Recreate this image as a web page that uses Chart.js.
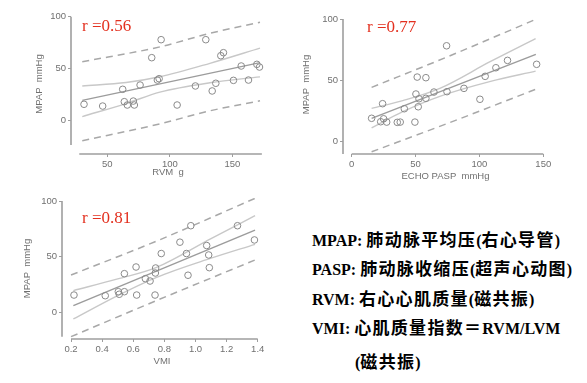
<!DOCTYPE html>
<html>
<head>
<meta charset="utf-8">
<script src="https://cdn.jsdelivr.net/npm/chart.js@4.4.0/dist/chart.umd.min.js"></script>
<style>
  body { margin: 0; background: #fff; }
  #wrap { position: relative; width: 587px; height: 383px; overflow: hidden; }
  canvas { position: absolute; }
  .r { position: absolute; font: 17px "Liberation Serif", "Times New Roman", serif; line-height: 17px; color: #e3301f; white-space: pre; }
  .note { position: absolute; left: 312px; font: bold 16px "Liberation Serif", "Times New Roman", "Noto Sans CJK SC", serif; line-height: 16px; color: #000; white-space: pre; }
  .cj { font-family: "Noto Sans CJK SC", sans-serif; font-size: 17px; letter-spacing: 1.3px; }
</style>
</head>
<body>
<div id="wrap">
  <canvas id="c1" width="290" height="185" style="left:0;top:0"></canvas>
  <canvas id="c2" width="297" height="185" style="left:290px;top:0"></canvas>
  <canvas id="c3" width="290" height="198" style="left:0;top:185px"></canvas>
  <div class="r" style="left:82px;top:17px">r =0.56</div>
  <div class="r" style="left:367px;top:18px">r =0.77</div>
  <div class="r" style="left:82px;top:209px">r =0.81</div>
  <div class="note" style="top:231px">MPAP: <span class="cj">肺动脉平均压</span>(<span class="cj">右心导管</span>)</div>
  <div class="note" style="top:260px">PASP: <span class="cj">肺动脉收缩压</span>(<span class="cj">超声心动图</span>)</div>
  <div class="note" style="top:290px">RVM: <span class="cj">右心心肌质量</span>(<span class="cj">磁共振</span>)</div>
  <div class="note" style="top:319px">VMI: <span class="cj">心肌质量指数＝</span>RVM/LVM</div>
  <div class="note" style="top:353px;left:355px">(<span class="cj">磁共振</span>)</div>
</div>
<script>
// --- RVM vs MPAP ---
const rvm = [31.4, 46.3, 62.3, 63.6, 66, 70.8, 71.6, 76.2, 85.5, 90, 91.4, 93, 105.8, 120.4, 128.7, 133.8, 136.7, 140.7, 142.8, 150.8, 157, 162.8, 169.5, 171.6];
const mpapRvm = [15.8, 14.1, 30.2, 18.3, 15.1, 18.9, 15.1, 34.3, 60.6, 39.1, 40.4, 77.9, 15.1, 33.4, 77.9, 28.6, 36, 62.5, 65.4, 38.8, 52.6, 39.1, 54.2, 51.6];
const rvmFitX = [30, 172];
const rvmFit = [19.5, 55.8];
const rvmBandX = [30, 65, 92, 132, 172];
const rvmCiUp = [33.4, 36.8, 42.3, 55.2, 69.8];
const rvmCiLo = [4, 16.5, 27.5, 36.5, 42.2];
const rvmPiX = [30, 92, 132, 172];
const rvmPiUp = [56.7, 71, 84, 94.6];
const rvmPiLo = [-19.2, -3, 9.5, 19.2];

// --- ECHO PASP vs MPAP ---
const pasp = [15.6, 24.2, 22.7, 25, 27.4, 35.7, 38, 41.2, 49.5, 50.3, 51.3, 52.7, 52.1, 58.1, 58.1, 64.4, 74.3, 74.6, 87.9, 100.4, 104.5, 112.9, 122, 144.8];
const mpapPasp = [19.1, 31, 16.3, 18.7, 16, 15.8, 16, 26.9, 16, 38.9, 52.7, 35, 28.5, 52.2, 35.4, 40.5, 78.2, 40.8, 43.5, 34.6, 53.3, 60.3, 66.3, 63.1];
const paspFitX = [15.6, 144.2];
const paspFit = [19.1, 71.2];
const paspBandX = [15.6, 40, 69, 108, 144];
const paspCiUp = [27.2, 33.5, 43.5, 65, 84];
const paspCiLo = [11.3, 24.5, 37, 49, 57.5];
const paspPiX = [15.6, 74, 144];
const paspPiUp = [44.3, 68.8, 99.7];
const paspPiLo = [-8.2, 14.5, 42.7];

// --- VMI vs MPAP ---
const vmi = [0.219, 0.42, 0.504, 0.51, 0.543, 0.543, 0.618, 0.622, 0.678, 0.708, 0.74, 0.742, 0.744, 0.78, 0.9, 0.942, 0.952, 0.97, 1.072, 1.085, 1.089, 1.27, 1.379];
const mpapVmi = [15.5, 14.9, 18.5, 16.2, 18.5, 34.7, 40.7, 15.5, 30.2, 28.1, 15.5, 35.3, 39.8, 52.8, 63, 52.8, 33.3, 77.8, 60, 51.5, 40.1, 77.8, 65];
const vmiFitX = [0.215, 1.383];
const vmiFit = [6, 73.9];
const vmiBandX = [0.215, 0.5, 0.75, 1.1, 1.383];
const vmiCiUp = [19.5, 30, 40.4, 66.2, 86.8];
const vmiCiLo = [-6, 15, 31.4, 48.6, 61.1];
const vmiPiX = [0.2, 0.74, 1.383];
const vmiPiUp = [33.5, 63.4, 102.4];
const vmiPiLo = [-21.9, 10, 47];

const FONT = 'Liberation Sans, Arial, sans-serif';
const TICK_COLOR = '#707070';

const axisLines = {
  id: 'axisLines',
  afterDraw(chart, args, o) {
    const { ctx, chartArea, scales: { x, y } } = chart;
    ctx.save();
    ctx.strokeStyle = o.color;
    ctx.lineWidth = o.width;
    ctx.beginPath();
    ctx.moveTo(chartArea.left, y.getPixelForValue(o.y[1]));
    ctx.lineTo(chartArea.left, y.getPixelForValue(o.y[0]));
    ctx.moveTo(x.getPixelForValue(o.x[0]), chartArea.bottom);
    ctx.lineTo(x.getPixelForValue(o.x[1]), chartArea.bottom);
    ctx.stroke();
    ctx.restore();
  }
};

function pts(xs, ys) { return xs.map((x, i) => ({ x, y: ys[i] })); }

function curve(xs, ys, color, width, dash) {
  return {
    type: 'line', data: pts(xs, ys), borderColor: color, borderWidth: width,
    borderDash: dash || [], pointRadius: 0, fill: false,
    tension: 0.4, cubicInterpolationMode: 'monotone'
  };
}

function makeChart(id, cfg) {
  const tickFont = { family: FONT, size: 9.5 };
  new Chart(document.getElementById(id), {
    type: 'scatter',
    data: {
      datasets: [
        { data: pts(cfg.xs, cfg.ys), pointRadius: 3.3, pointBorderWidth: 1,
          pointBorderColor: '#8a8a8a', pointBackgroundColor: 'rgba(0,0,0,0)', showLine: false },
        curve(cfg.fitX, cfg.fit, '#9c9c9c', 1.4),
        curve(cfg.bandX, cfg.ciUp, '#c8c8c8', 1.4),
        curve(cfg.bandX, cfg.ciLo, '#c8c8c8', 1.4),
        curve(cfg.piX, cfg.piUp, '#a8a8a8', 1.5, [7, 5]),
        curve(cfg.piX, cfg.piLo, '#a8a8a8', 1.5, [7, 5])
      ]
    },
    options: {
      responsive: false,
      animation: false,
      events: [],
      layout: { padding: cfg.pad },
      plugins: {
        legend: { display: false },
        tooltip: { enabled: false },
        axisLines: { color: '#9e9e9e', width: 1.6, x: cfg.xLine, y: cfg.yLine }
      },
      scales: {
        x: {
          type: 'linear', min: cfg.xMin, max: cfg.xMax,
          afterBuildTicks: s => { s.ticks = cfg.xTicks.map(v => ({ value: v })); },
          afterFit: s => { s.height = cfg.xH; },
          border: { display: false },
          grid: { drawOnChartArea: false, drawTicks: true, tickLength: 3, color: '#9e9e9e' },
          ticks: { font: tickFont, color: TICK_COLOR, padding: 2, maxRotation: 0,
                   callback: cfg.xFmt || (v => v) },
          title: { display: true, text: cfg.xTitle, font: tickFont, color: TICK_COLOR,
                   padding: { top: 0, bottom: cfg.xTitlePad } }
        },
        y: {
          min: cfg.yMin, max: cfg.yMax,
          afterBuildTicks: s => { s.ticks = [0, 50, 100].map(v => ({ value: v })); },
          afterFit: s => { s.width = cfg.yW; },
          border: { display: false },
          grid: { drawOnChartArea: false, drawTicks: true, tickLength: 3, color: '#9e9e9e' },
          ticks: { font: tickFont, color: TICK_COLOR, padding: 2 },
          title: { display: true, text: 'MPAP  mmHg', font: tickFont, color: TICK_COLOR,
                   padding: { top: cfg.yTitlePad, bottom: 0 } }
        }
      }
    },
    plugins: [axisLines]
  });
}

makeChart('c1', {
  xs: rvm, ys: mpapRvm, fitX: rvmFitX, fit: rvmFit, bandX: rvmBandX, ciUp: rvmCiUp, ciLo: rvmCiLo,
  piX: rvmPiX, piUp: rvmPiUp, piLo: rvmPiLo,
  pad: { top: 14, right: 25, left: 0, bottom: 0 }, xH: 31, yW: 71,
  xMin: 21, xMax: 176, yMin: -32, yMax: 102.6,
  xTicks: [50, 100, 150], xLine: [27.6, 173.5], yLine: [-23.4, 100],
  xTitle: 'RVM  g', xTitlePad: 7, yTitlePad: 34
});

makeChart('c2', {
  xs: pasp, ys: mpapPasp, fitX: paspFitX, fit: paspFit, bandX: paspBandX, ciUp: paspCiUp, ciLo: paspCiLo,
  piX: paspPiX, piUp: paspPiUp, piLo: paspPiLo,
  pad: { top: 15, right: 39, left: 0, bottom: 0 }, xH: 31, yW: 53,
  xMin: -6.8, xMax: 153.7, yMin: -10, yMax: 103.3,
  xTicks: [0, 50, 100, 150], xLine: [0, 150], yLine: [-10, 100],
  xTitle: 'ECHO PASP  mmHg', xTitlePad: 3, yTitlePad: 11
});

makeChart('c3', {
  xs: vmi, ys: mpapVmi, fitX: vmiFitX, fit: vmiFit, bandX: vmiBandX, ciUp: vmiCiUp, ciLo: vmiCiLo,
  piX: vmiPiX, piUp: vmiPiUp, piLo: vmiPiLo,
  pad: { top: 13, right: 28, left: 0, bottom: 0 }, xH: 44, yW: 62,
  xMin: 0.142, xMax: 1.4276, yMin: -24, yMax: 102.7,
  xTicks: [0.2, 0.4, 0.6, 0.8, 1.0, 1.2, 1.4], xLine: [0.2, 1.4], yLine: [-21.9, 100],
  xFmt: v => v.toFixed(1),
  xTitle: 'VMI', xTitlePad: 15.6, yTitlePad: 22
});
</script>
</body>
</html>
